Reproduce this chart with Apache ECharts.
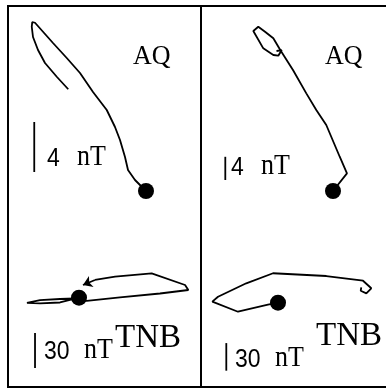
<!DOCTYPE html>
<html>
<head>
<meta charset="utf-8">
<script src="https://cdn.jsdelivr.net/npm/echarts@6/dist/echarts.min.js"></script>
<style>
  html, body { margin: 0; padding: 0; background: #fff; }
  #chart { width: 386px; height: 389px; }
</style>
</head>
<body>
<div id="chart"></div>
<script>
// hodograph tracks in nT, relative to the start point (black dot)
const aqLeft = [[0, 0], [-0.34, 0.34], [-0.88, 0.88], [-1.44, 1.68], [-1.68, 2.72], [-2.08, 4.08],
  [-2.48, 5.12], [-3.14, 6.48], [-4.24, 7.92], [-5.28, 9.44], [-6.34, 10.64], [-7.44, 11.84],
  [-8.24, 12.74], [-8.88, 13.46], [-9.1, 13.52], [-9.14, 13.14], [-9.04, 12.32], [-8.64, 11.28],
  [-8.08, 10.24], [-7.14, 9.14], [-6.22, 8.14]];
const aqRight = [[0, 0], [2.41, 3.05], [1.16, 5.91], [-1.16, 11.38], [-2.88, 13.97], [-4.6, 16.84],
  [-6.9, 20.86], [-9.09, 24.31], [-10.29, 26.33], [-11.72, 27.47], [-12.88, 28.33], [-13.74, 27.59],
  [-12.02, 24.6], [-10.29, 23.45], [-9.43, 23.33], [-8.84, 24.31], [-9.74, 24.14]];
const tnbLeft = [[0, 0], [-16.3, -4.1], [-33.4, -4.8], [-44.6, -4.5], [-45.4, -3.3], [-33.4, -2.0],
  [-16.3, -1.1], [-3.4, -0.7], [6.6, -2.8], [35.1, 0.2], [69.4, 3.6], [93.7, 6.6], [90.9, 10.9],
  [62.3, 20.9], [30.9, 18.0], [13.7, 15.2]];
const tnbLeftArrow = [[13.7, 15.2], [3.4, 10.9]];
const tnbRight = [[0, 0], [-10.9, -2.0], [-43.5, -9.8], [-71.4, 1.1], [-65.2, 6.5], [-34.5, 21.1],
  [-5.4, 32.0], [52.5, 29.0], [92.4, 23.9], [101.4, 15.7], [96.0, 10.2], [89.9, 13.0], [90.5, 16.7]];

// scale bars: 4 nT for AQ, 30 nT for TNB
const barAqLeft = [[-8.94, 1.52], [-8.94, 5.52]];
const barAqRight = [[-18.57, 1.9], [-18.57, 5.9]];
const barTnbLeft = [[-37.7, -60.3], [-37.7, -30.3]];
const barTnbRight = [[-56.2, -73.9], [-56.2, -43.9]];

const grids = [
  { left: 8, top: 6, width: 193, height: 194 },
  { left: 201, top: 6, width: 185, height: 194 },
  { left: 8, top: 200, width: 193, height: 187 },
  { left: 201, top: 200, width: 185, height: 187 }
];
const ranges = [
  { x: [-11.04, 4.4], y: [-0.72, 14.8] },
  { x: [-22.76, 9.14], y: [-1.55, 31.9] },
  { x: [-60.86, 104.57], y: [-76.55, 83.74] },
  { x: [-83.7, 117.39], y: [-91.63, 111.63] }
];

const chart = echarts.init(document.getElementById('chart'));

const ink = '#000';
function track(i, data) {
  return {
    type: 'line', xAxisIndex: i, yAxisIndex: i, data: data,
    showSymbol: false, silent: true, animation: false,
    lineStyle: { color: ink, width: 1.8 }
  };
}
function dot(i) {
  return {
    type: 'scatter', xAxisIndex: i, yAxisIndex: i, data: [[0, 0]],
    symbolSize: 16, itemStyle: { color: ink, opacity: 1 }, silent: true, animation: false
  };
}

const series = [
  track(0, aqLeft), dot(0), track(0, barAqLeft),
  track(1, aqRight), dot(1), track(1, barAqRight),
  track(2, tnbLeft), dot(2), track(2, barTnbLeft),
  {
    type: 'lines', coordinateSystem: 'cartesian2d', xAxisIndex: 2, yAxisIndex: 2,
    data: [{ coords: tnbLeftArrow }], symbol: ['none', 'arrow'], symbolSize: 9,
    lineStyle: { color: ink, width: 1.8, opacity: 1 }, silent: true, animation: false
  },
  track(3, tnbRight), dot(3), track(3, barTnbRight)
];

const serif = 'Liberation Serif, DejaVu Serif, serif';
const sans = 'Liberation Sans, Arial, sans-serif';
// text drawn slightly taller than wide, as in the scanned figure
function label(text, x, y, size, family, sy) {
  return {
    type: 'text', x: x, y: y, silent: true, scaleY: sy || 1.12,
    style: { text: text, font: size + 'px ' + (family || serif), fill: ink, verticalAlign: 'bottom' }
  };
}

chart.setOption({
  animation: false,
  grid: grids,
  xAxis: ranges.map((r, i) => ({ type: 'value', gridIndex: i, min: r.x[0], max: r.x[1], show: false })),
  yAxis: ranges.map((r, i) => ({ type: 'value', gridIndex: i, min: r.y[0], max: r.y[1], show: false })),
  series: series,
  graphic: [
    // frame
    { type: 'line', shape: { x1: 8, y1: 6, x2: 386, y2: 6 }, style: { stroke: ink, lineWidth: 2 } },
    { type: 'line', shape: { x1: 8, y1: 387, x2: 386, y2: 387 }, style: { stroke: ink, lineWidth: 2 } },
    { type: 'line', shape: { x1: 8, y1: 5, x2: 8, y2: 388 }, style: { stroke: ink, lineWidth: 2 } },
    { type: 'line', shape: { x1: 201, y1: 5, x2: 201, y2: 388 }, style: { stroke: ink, lineWidth: 2 } },
    label('AQ', 133, 71, 26, serif, 1.07),
    label('AQ', 325, 71, 26, serif, 1.07),
    label('4', 47, 172, 23, sans),
    label('nT', 77, 172, 26),
    label('4', 231, 181, 23, sans),
    label('nT', 261, 181, 26),
    label('30', 44, 365, 23, sans),
    label('nT', 84, 365, 26),
    label('30', 235, 373, 23, sans),
    label('nT', 275, 373, 26),
    label('TNB', 115, 355, 33, serif, 1),
    label('TNB', 316, 353, 33, serif, 1)
  ]
});
</script>
</body>
</html>
